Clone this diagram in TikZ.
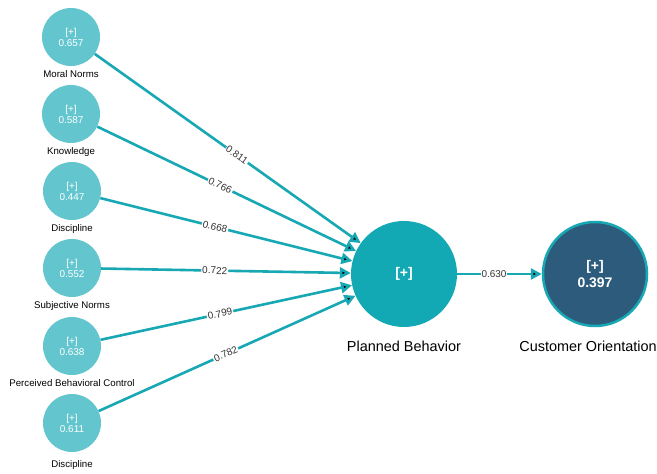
\documentclass[tikz,border=0pt]{standalone}
\usepackage{fontspec}
\setmainfont{Liberation Sans}
\usetikzlibrary{arrows.meta}
\definecolor{indfill}{HTML}{63C6CE}
\definecolor{pbfill}{HTML}{13A9B4}
\definecolor{cofill}{HTML}{2D5B7B}
\definecolor{link}{HTML}{17A8B4}

\begin{document}
\begin{tikzpicture}[x=1bp,y=-1bp,
    ind/.style={circle,fill=indfill,text=white,minimum size=58bp,inner sep=0pt,
      align=center,font=\fontsize{10}{11}\selectfont},
    lat/.style={circle,minimum size=106bp,inner sep=0pt,text=white,
      align=center,font=\fontsize{14}{17}\selectfont\bfseries},
    lbl/.style={font=\fontsize{9.7}{11}\selectfont,text=black,label distance=1bp},
    biglbl/.style={font=\fontsize{14.5}{16}\selectfont,text=black,label distance=10bp},
    wt/.style={sloped,fill=white,inner sep=1bp,font=\fontsize{10}{11}\selectfont,
      text=black!80},
    conn/.style={draw=link,line width=2.6bp,-{Triangle[length=11bp,width=11bp]}}]
  \useasboundingbox (0,0) rectangle (657,474);
  % indicators
  \node[ind,label={[lbl]below:Moral Norms}] (MN) at (71,37) {[+]\\0.657};
  \node[ind,label={[lbl]below:Knowledge}] (KN) at (71,114) {[+]\\0.587};
  \node[ind,label={[lbl]below:Discipline}] (DI) at (72,191) {[+]\\0.447};
  \node[ind,label={[lbl]below:Subjective Norms}] (SN) at (72,268) {[+]\\0.552};
  \node[ind,label={[lbl]below:Perceived Behavioral Control}] (PC) at (72,346) {[+]\\0.638};
  \node[ind,label={[lbl,label distance=5bp]below:Discipline}] (DT) at (72,423) {[+]\\0.611};
  % latent variables
  \node[lat,fill=pbfill,label={[biglbl]below:Planned Behavior}] (PB) at (404,274) {[+]};
  \node[lat,fill=cofill,draw=link,line width=2.5bp,minimum size=104bp,
    label={[biglbl,xshift=-7bp]below:Customer Orientation}] (CO) at (595,274) {[+]\\0.397};
  % paths
  \path[conn] (MN) edge node[wt,pos=0.535] {0.811} (PB);
  \path[conn] (KN) edge node[wt,pos=0.475] {0.766} (PB);
  \path[conn] (DI) edge node[wt,pos=0.455] {0.668} (PB);
  \path[conn] (SN) edge node[wt,pos=0.455] {0.722} (PB);
  \path[conn] (PC) edge node[wt,pos=0.475] {0.799} (PB);
  \path[conn] (DT) edge node[wt,pos=0.495] {0.782} (PB);
  \path[conn] (PB) edge node[wt,pos=0.435] {0.630} (CO);
\end{tikzpicture}
\end{document}
